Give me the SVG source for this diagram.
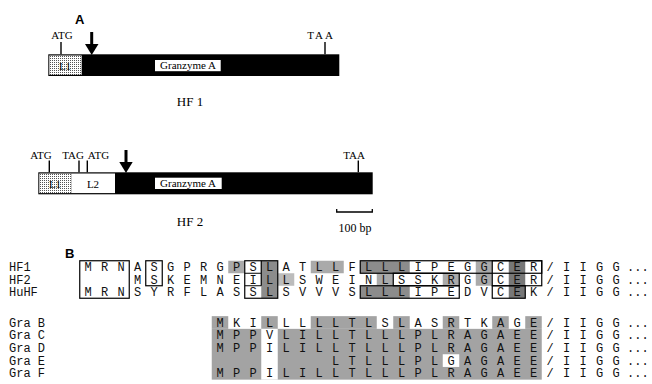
<svg xmlns="http://www.w3.org/2000/svg" width="652" height="384" viewBox="0 0 652 384">
<defs>
<pattern id="stip" width="2" height="2" patternUnits="userSpaceOnUse">
<rect width="2" height="2" fill="#fff"/>
<rect width="1" height="1" fill="#555"/>
</pattern>
</defs>
<style>
.ser{font-family:"Liberation Serif","Times New Roman",serif;fill:#000}
.bold{font-family:"Liberation Sans",Arial,sans-serif;font-weight:bold;font-size:13px;fill:#000}
.seq{font-family:"Liberation Mono","Courier New",monospace;font-size:12px;fill:#111;text-anchor:middle}
.lab{font-family:"Liberation Mono","Courier New",monospace;font-size:12px;fill:#111}
.tick{stroke:#000;stroke-width:1.4}
.box{fill:none;stroke:#000;stroke-width:1.2}
.sh1{fill:#aaaaaa}
.sh2{fill:#8c8c8c}
.sh3{fill:#777777}
.shg{fill:#a3a3a3}
</style>
<rect width="652" height="384" fill="#fff"/>

<text class="bold" x="75" y="24">A</text>

<g id="hf1">
<rect x="48.3" y="54.3" width="291" height="21.7" fill="#000"/>
<rect x="49.3" y="55.5" width="32.4" height="19.3" fill="url(#stip)"/>
<text class="ser" x="65" y="69.5" font-size="11" text-anchor="middle">L1</text>
<rect x="155" y="60" width="65.7" height="11.2" fill="#fff"/>
<text class="ser" x="188" y="69.3" font-size="11" text-anchor="middle">Granzyme A</text>
<text class="ser" x="62" y="39" font-size="11" text-anchor="middle">ATG</text>
<line class="tick" x1="61" y1="42" x2="61" y2="54.3"/>
<text class="ser" x="321" y="39" font-size="11" text-anchor="middle" letter-spacing="2">TAA</text>
<line class="tick" x1="325" y1="42" x2="325" y2="54.3"/>
<line x1="91.7" y1="32" x2="91.7" y2="46" stroke="#000" stroke-width="3"/>
<path d="M85,44 L98.5,44 L91.7,55 z" fill="#000"/>
<text class="ser" x="190" y="106" font-size="13" text-anchor="middle">HF 1</text>
</g>

<g id="hf2">
<rect x="38.3" y="172.3" width="334.4" height="22" fill="#000"/>
<rect x="39.3" y="173.5" width="32.4" height="19.6" fill="url(#stip)"/>
<text class="ser" x="55" y="187.5" font-size="11" text-anchor="middle">L1</text>
<rect x="71.7" y="173.5" width="43.3" height="19.6" fill="#fff"/>
<text class="ser" x="93" y="187.5" font-size="11" text-anchor="middle">L2</text>
<rect x="155" y="177.7" width="66.7" height="11.3" fill="#fff"/>
<text class="ser" x="188" y="187" font-size="11" text-anchor="middle">Granzyme A</text>
<text class="ser" x="41" y="159" font-size="11" text-anchor="middle">ATG</text>
<line class="tick" x1="49.3" y1="160.5" x2="49.3" y2="172.3"/>
<text class="ser" x="73" y="159" font-size="11" text-anchor="middle">TAG</text>
<line class="tick" x1="79" y1="160.5" x2="79" y2="172.3"/>
<text class="ser" x="98.5" y="159" font-size="11" text-anchor="middle">ATG</text>
<line class="tick" x1="87.3" y1="160.5" x2="87.3" y2="172.3"/>
<text class="ser" x="354" y="159" font-size="11" text-anchor="middle">TAA</text>
<line class="tick" x1="358.3" y1="160.5" x2="358.3" y2="172.3"/>
<line x1="126" y1="150" x2="126" y2="164" stroke="#000" stroke-width="3"/>
<path d="M119.3,162 L132.7,162 L126,173 z" fill="#000"/>
<text class="ser" x="190" y="225.5" font-size="13" text-anchor="middle">HF 2</text>
</g>

<g id="scalebar">
<path d="M336.7,209 L336.7,212 L372.3,212 L372.3,209" fill="none" stroke="#000" stroke-width="1.3"/>
<text class="ser" x="355" y="232" font-size="12" text-anchor="middle">100 bp</text>
</g>

<text class="bold" x="65" y="258">B</text>

<g id="shading">
<rect class="sh1" x="228.25" y="260.75" width="16.5" height="12.5"/>
<rect class="sh2" x="261.25" y="260.75" width="16.5" height="37.5"/>
<rect class="sh1" x="310.75" y="260.75" width="33" height="12.5"/>
<rect class="sh2" x="360.25" y="260.75" width="49.5" height="12.5"/>
<rect class="sh1" x="475.75" y="260.75" width="16.5" height="25"/>
<rect class="sh3" x="508.75" y="260.75" width="16.5" height="37.5"/>
<rect fill="#bcbcbc" x="277.75" y="273.25" width="16.5" height="12.5"/>
<rect class="sh1" x="376.75" y="273.25" width="16.5" height="12.5"/>
<rect class="sh1" x="442.75" y="273.25" width="16.5" height="12.5"/>
<rect class="sh2" x="360.25" y="285.75" width="49.5" height="12.5"/>

<rect class="shg" x="211.75" y="316.15" width="16.5" height="12.7"/>
<rect class="shg" x="261.25" y="316.15" width="16.5" height="12.7"/>
<rect class="shg" x="310.75" y="316.15" width="66" height="12.7"/>
<rect class="shg" x="393.25" y="316.15" width="16.5" height="12.7"/>
<rect class="shg" x="442.75" y="316.15" width="16.5" height="12.7"/>
<rect class="shg" x="492.25" y="316.15" width="16.5" height="12.7"/>
<rect class="shg" x="525.25" y="316.15" width="16.5" height="12.7"/>
<rect class="shg" x="211.75" y="328.85" width="330" height="50.8"/>
<rect fill="#fff" x="261.25" y="328.85" width="16.5" height="50.8"/>
<rect fill="#fff" x="442.75" y="354.25" width="16.5" height="12.7"/>
</g>

<g id="outlines">
<rect class="box" x="79.75" y="260.75" width="49.5" height="37.5"/>
<rect class="box" x="145.75" y="260.75" width="16.5" height="25"/>
<rect class="box" x="244.75" y="260.75" width="33" height="37.5"/>
<path class="box" d="M261.25,260.75 V285.75 M244.75,273.25 H261.25 M244.75,285.75 H261.25"/>
<rect class="box" x="360.25" y="260.75" width="181.5" height="12.5"/>
<rect class="box" x="393.25" y="273.25" width="66" height="12.5"/>
<rect class="box" x="360.25" y="285.75" width="99" height="12.5"/>
<rect class="box" x="492.25" y="260.75" width="49.5" height="25"/>
<rect class="box" x="492.25" y="285.75" width="33" height="12.5"/>
</g>

<g id="labels">
<text class="lab" x="9" y="271">HF1</text>
<text class="lab" x="9" y="283.5">HF2</text>
<text class="lab" x="9" y="296">HuHF</text>
<text class="lab" x="9" y="326.5">Gra B</text>
<text class="lab" x="9" y="339.2">Gra C</text>
<text class="lab" x="9" y="351.9">Gra D</text>
<text class="lab" x="9" y="364.6">Gra E</text>
<text class="lab" x="9" y="377.3">Gra F</text>
</g>

<g id="sequences">
<text class="seq" y="271" x="88 104.5 121 137.5 154 170.5 187 203.5 220 236.5 253 269.5 286 302.5 319 335.5 352 368.5 385 401.5 418 434.5 451 467.5 484 500.5 517 533.5 550 566.5 583 599.5 616">MRNASGPRGPSLATLLFLLLIPEGGCER/IIGG</text>
<text class="seq" y="283.5" x="137.5 154 170.5 187 203.5 220 236.5 253 269.5 286 302.5 319 335.5 352 368.5 385 401.5 418 434.5 451 467.5 484 500.5 517 533.5 550 566.5 583 599.5 616">MSKEMNEILLSWEINLSSKRGGCER/IIGG</text>
<text class="seq" y="296" x="88 104.5 121 137.5 154 170.5 187 203.5 220 236.5 253 269.5 286 302.5 319 335.5 352 368.5 385 401.5 418 434.5 451 467.5 484 500.5 517 533.5 550 566.5 583 599.5 616">MRNSYRFLASSLSVVVSLLLIPEDVCEK/IIGG</text>
<text class="seq" y="326.5" x="220 236.5 253 269.5 286 302.5 319 335.5 352 368.5 385 401.5 418 434.5 451 467.5 484 500.5 517 533.5 550 566.5 583 599.5 616">MKILLLLLTLSLASRTKAGE/IIGG</text>
<text class="seq" y="339.2" x="220 236.5 253 269.5 286 302.5 319 335.5 352 368.5 385 401.5 418 434.5 451 467.5 484 500.5 517 533.5 550 566.5 583 599.5 616">MPPVLILLTLLLPLRAGAEE/IIGG</text>
<text class="seq" y="351.9" x="220 236.5 253 269.5 286 302.5 319 335.5 352 368.5 385 401.5 418 434.5 451 467.5 484 500.5 517 533.5 550 566.5 583 599.5 616">MPPILILLTLLLPLRAGAEE/IIGG</text>
<text class="seq" y="364.6" x="335.5 352 368.5 385 401.5 418 434.5 451 467.5 484 500.5 517 533.5 550 566.5 583 599.5 616">LTLLLPLGAGAEE/IIGG</text>
<text class="seq" y="377.3" x="220 236.5 253 269.5 286 302.5 319 335.5 352 368.5 385 401.5 418 434.5 451 467.5 484 500.5 517 533.5 550 566.5 583 599.5 616">MPPILILLTLLLPLRAGAEE/IIGG</text>
<text class="lab" x="627" y="271">...</text>
<text class="lab" x="627" y="283.5">...</text>
<text class="lab" x="627" y="296">...</text>
<text class="lab" x="627" y="326.5">...</text>
<text class="lab" x="627" y="339.2">...</text>
<text class="lab" x="627" y="351.9">...</text>
<text class="lab" x="627" y="364.6">...</text>
<text class="lab" x="627" y="377.3">...</text>
</g>
</svg>
